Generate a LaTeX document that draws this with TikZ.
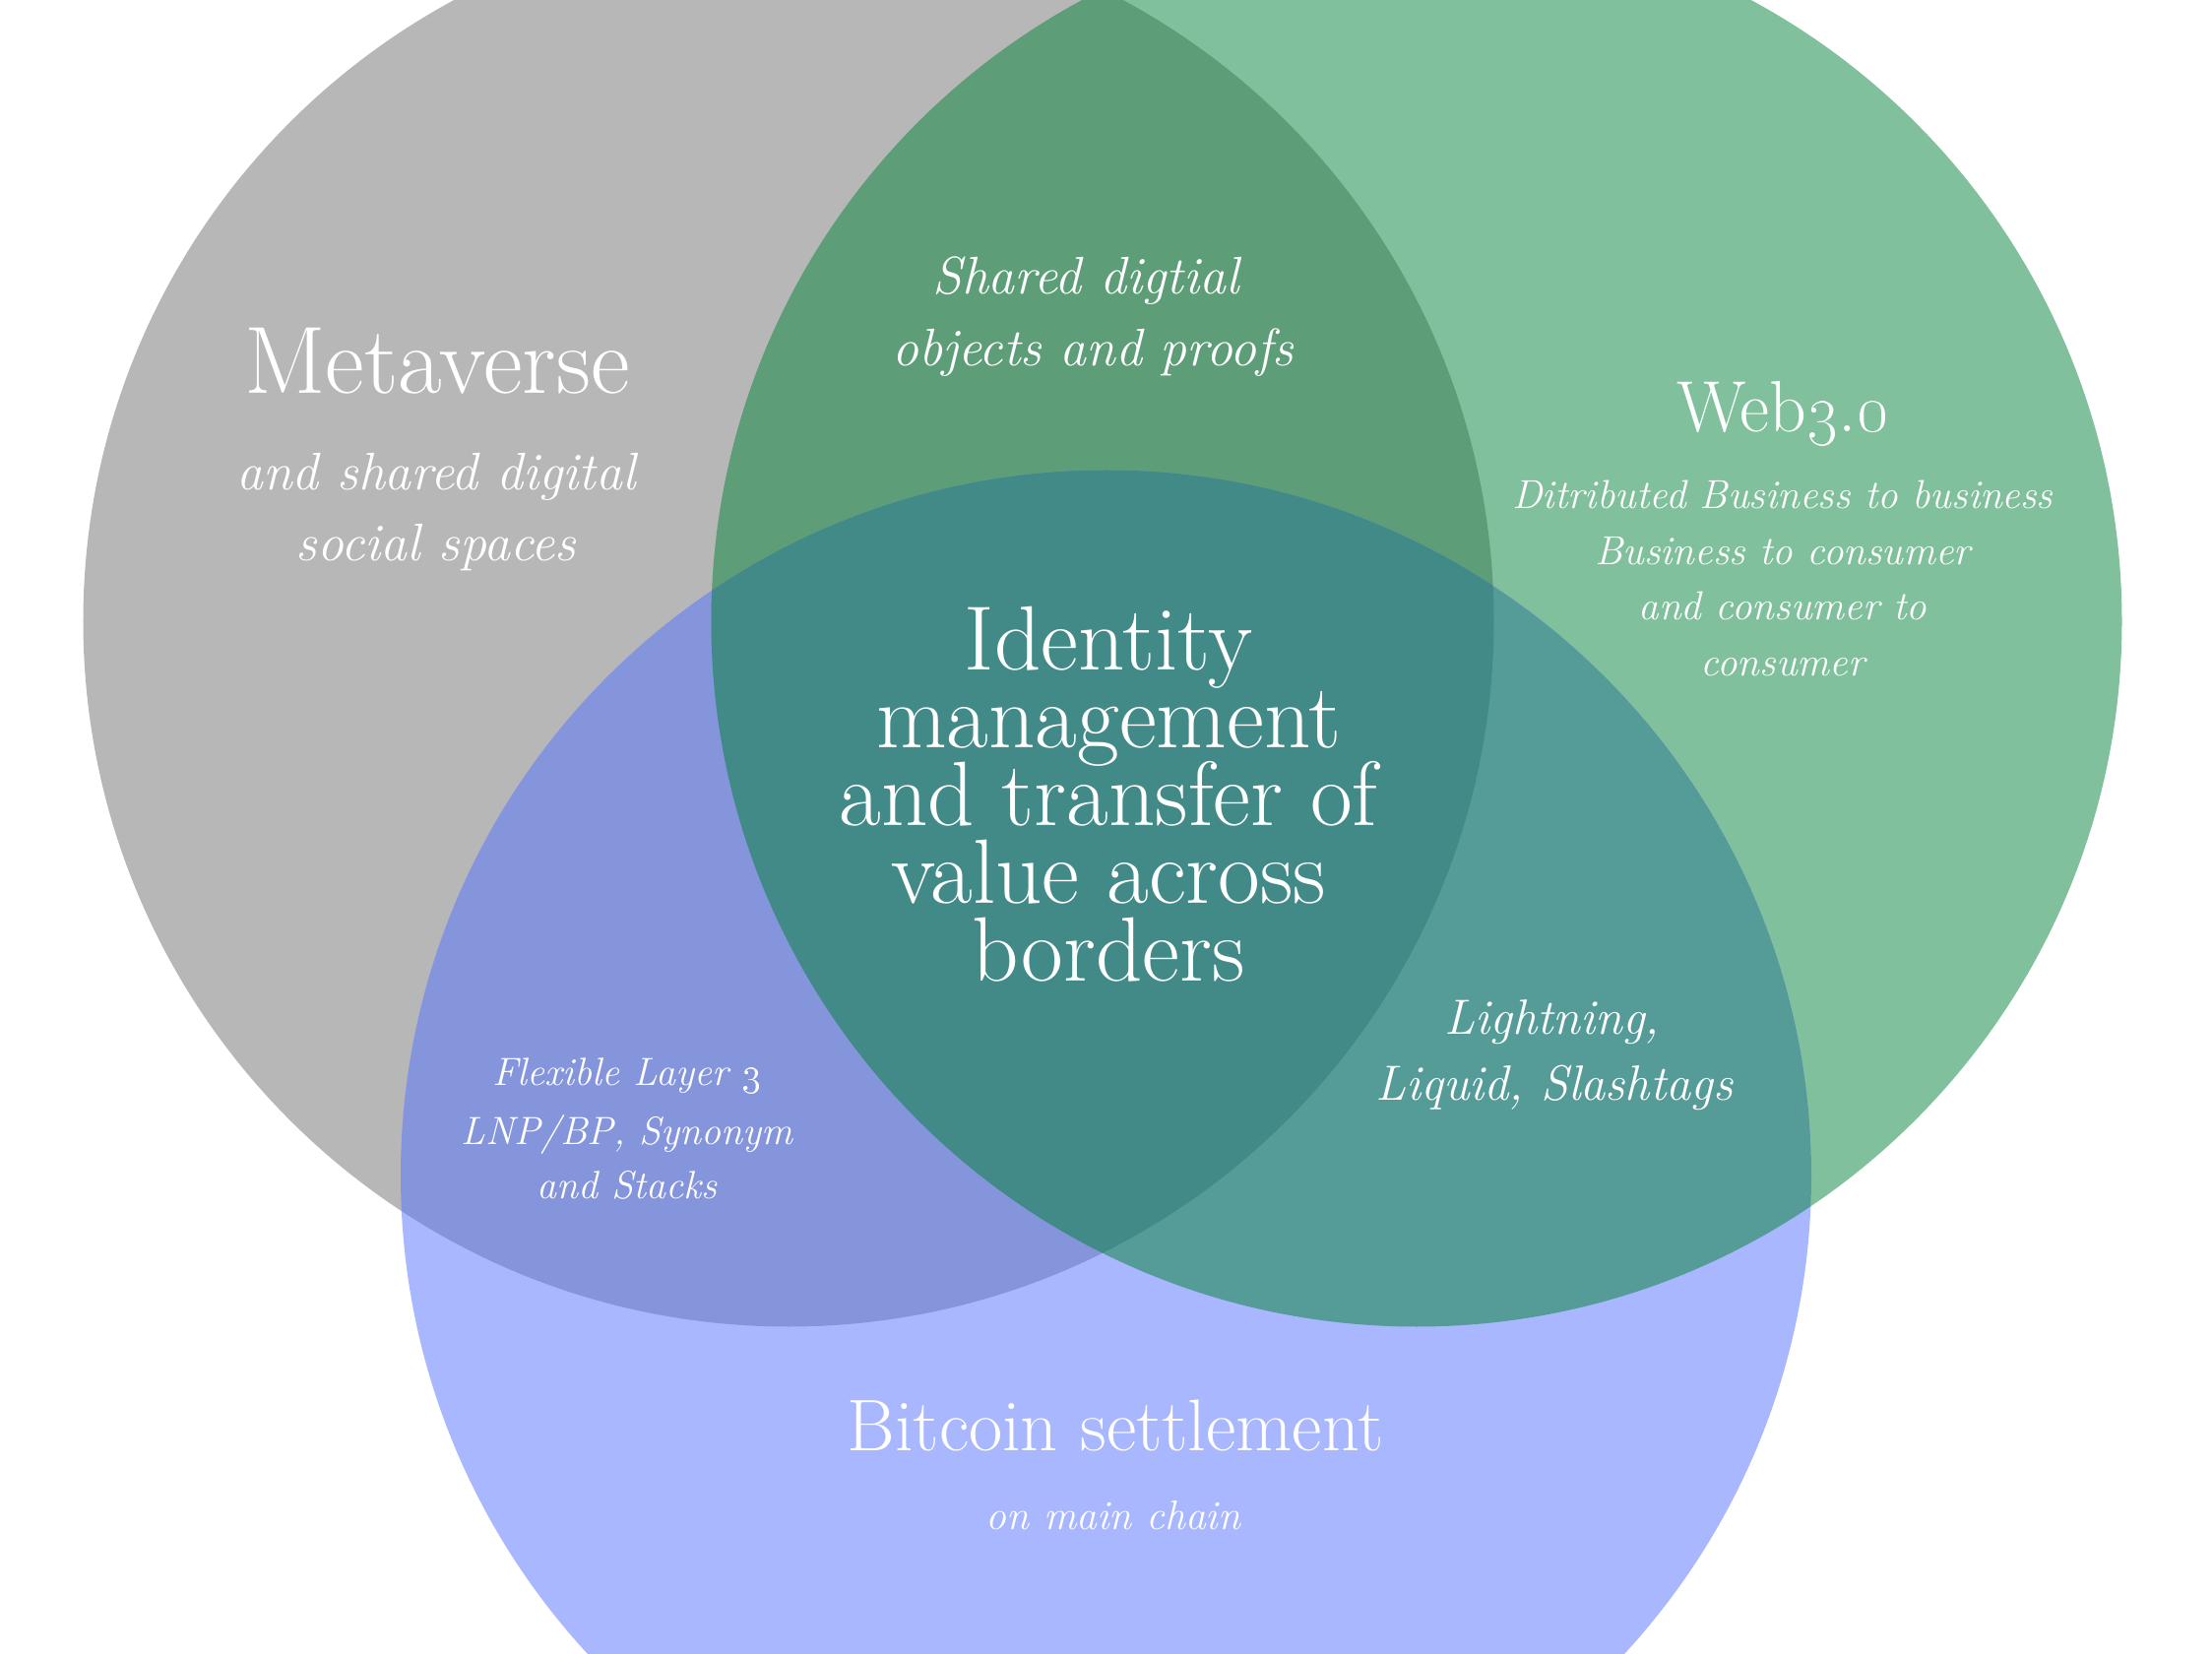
\documentclass[tikz,border=0pt]{standalone}
\definecolor{cGray}{HTML}{B7B7B7}
\definecolor{cGreen}{HTML}{80C09C}
\definecolor{cBlue}{HTML}{A9B7FE}
\definecolor{cGrayGreen}{HTML}{5D9D78}
\definecolor{cGrayBlue}{HTML}{8595DC}
\definecolor{cGreenBlue}{HTML}{559C99}
\definecolor{cAll}{HTML}{428A88}
\newcommand{\fsz}[1]{\fontsize{#1}{#1}\selectfont}
\begin{document}
\begin{tikzpicture}[x=0.35pt,y=-0.35pt,
  lbl/.style={text=white, inner sep=0pt, anchor=base},
  big/.style={lbl, font=\fsz{34}},
  mid/.style={lbl, font=\fsz{25.8}},
  core/.style={text=white, inner sep=0pt, anchor=north, align=center,
    font={\fontsize{32.5}{27.65}\selectfont\lineskiplimit=-1000pt}},
  setl/.style={lbl, font=\fsz{26}},
  itl/.style={lbl, font=\itshape\fsz{18.8}},
  itm/.style={lbl, font=\itshape\fsz{17.6}},
  its/.style={lbl, font=\itshape\fsz{14.4}},
  itf/.style={lbl, font=\itshape\fsz{14}},
  itc/.style={lbl, font=\itshape\fsz{14.6}}]
\def\R{250.78pt}
\useasboundingbox (0,0) rectangle (2247,1680);
\begin{scope}
\clip (0,0) rectangle (2247,1680);
\coordinate (cg) at (801,631);
\coordinate (cw) at (1439,631);
\coordinate (cb) at (1123.5,1194);
% single sets
\fill[cGray] (cg) circle[radius=\R];
\fill[cGreen] (cw) circle[radius=\R];
\fill[cBlue] (cb) circle[radius=\R];
% pairwise overlaps
\begin{scope}
\clip (cg) circle[radius=\R];
\fill[cGrayGreen] (cw) circle[radius=\R];
\fill[cGrayBlue] (cb) circle[radius=\R];
\end{scope}
\begin{scope}
\clip (cw) circle[radius=\R];
\fill[cGreenBlue] (cb) circle[radius=\R];
\end{scope}
% triple overlap
\begin{scope}
\clip (cg) circle[radius=\R];
\clip (cw) circle[radius=\R];
\fill[cAll] (cb) circle[radius=\R];
\end{scope}
\end{scope}
% Metaverse
\node[big] (meta) at (444,400) {Metaverse};
\node[itl] (meta1) at (443,498) {and shared digital};
\node[itl] (meta2) at (443,570) {social spaces};
% Shared digital objects
\node[itl] (sh1) at (1103,299) {Shared digtial};
\node[itl] (sh2) at (1110,372) {objects and proofs};
% Web3.0
\node[mid] (web) at (1811,439) {Web\oldstylenums{3}.\oldstylenums{0}};
\node[its] (web1) at (1811,517) {Ditributed Business to business};
\node[its] (web2) at (1811,574) {Business to consumer};
\node[its] (web3) at (1811,630) {and consumer to};
\node[its] (web4) at (1811,687) {consumer};
% Centre
\node[core] (id) at (1126,615.6) {Identity\\management\\and transfer of\\value across\\borders};
% Lightning
\node[itm] (li1) at (1577,1051) {Lightning,};
\node[itm] (li2) at (1579,1118) {Liquid, Slashtags};
% Flexible layer
\node[itf] (fl1) at (637,1103) {Flexible Layer \oldstylenums{3}};
\node[itf] (fl2) at (637,1162) {LNP/BP, Synonym};
\node[itf] (fl3) at (637,1217) {and Stacks};
% Bitcoin
\node[setl] (btc) at (1133,1473) {Bitcoin settlement};
\node[itc] (btc1) at (1131,1553) {on main chain};
\end{tikzpicture}
\end{document}
